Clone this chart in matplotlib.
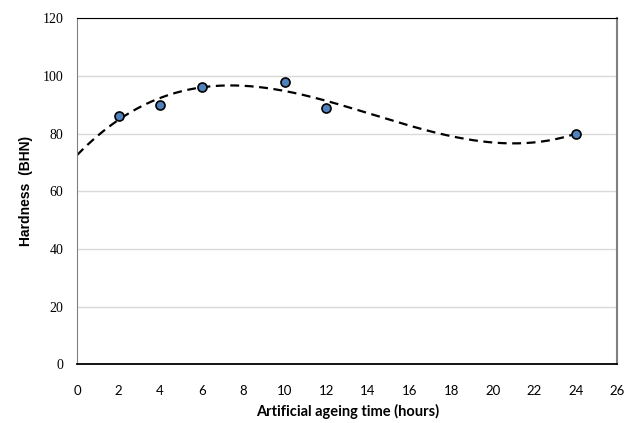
import numpy as np
import matplotlib
matplotlib.use("Agg")
import matplotlib.pyplot as plt

ageing_hours = [2, 4, 6, 10, 12, 24]
hardness_bhn = [86, 90, 96, 98, 89, 80]
x_ticks = list(range(0, 27, 2))
y_ticks = list(range(0, 121, 20))

# 3rd order polynomial trendline (as in the spreadsheet chart)
coef = np.polyfit(ageing_hours, hardness_bhn, 3)
trend_x = np.linspace(0, 24, 200)
trend_y = np.polyval(coef, trend_x)

fig = plt.figure(figsize=(6.35, 4.23), dpi=100)
ax = fig.add_axes([0.1213, 0.1383, 0.8511, 0.8191])

ax.plot(trend_x, trend_y, color='black', linewidth=1.6, linestyle=(0, (4, 2.5)), zorder=2)
ax.plot(ageing_hours, hardness_bhn, linestyle='none', marker='o', markersize=6.5,
        markerfacecolor='#4F81BD', markeredgecolor='black', markeredgewidth=1.2, zorder=3)

ax.set_xlim(0, 26)
ax.set_ylim(0, 120)
ax.set_xticks(x_ticks)
ax.set_yticks(y_ticks)
ax.grid(axis='y', color='#d9d9d9', linewidth=1)
ax.set_axisbelow(True)
ax.tick_params(length=0)
ax.tick_params(axis='y', pad=10)
ax.tick_params(axis='x', pad=15)
for lbl in ax.get_yticklabels():
    lbl.set_fontfamily('Liberation Serif')
    lbl.set_fontsize(10)
for lbl in ax.get_xticklabels():
    lbl.set_fontfamily('Lato')
    lbl.set_fontsize(9.5)

ax.spines['top'].set_color('black')
ax.spines['bottom'].set_color('black')
ax.spines['bottom'].set_linewidth(1.3)
ax.spines['left'].set_color('#808080')
ax.spines['right'].set_color('#808080')
ax.spines['right'].set_linewidth(1.5)

ax.set_xlabel('Artificial ageing time (hours)', fontfamily='Lato', fontweight='bold',
              fontsize=10.5, labelpad=5)
ax.set_ylabel('Hardness  (BHN)', fontfamily='Liberation Sans', fontweight='bold',
              fontsize=10, labelpad=7)

fig.savefig('out.png', dpi=100)
